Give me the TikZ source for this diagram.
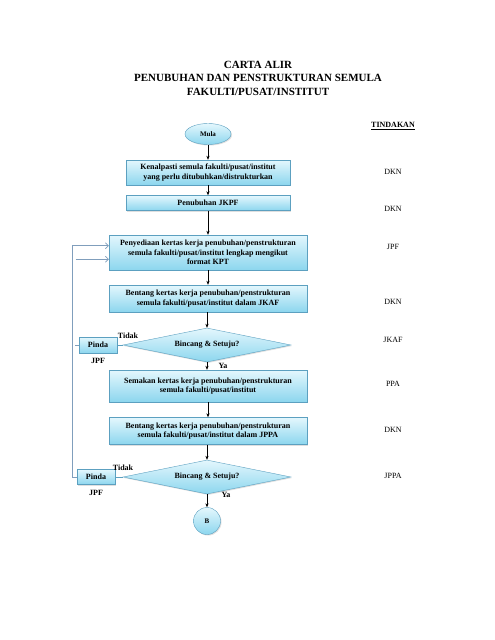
\documentclass[tikz,border=0pt]{standalone}
\usepackage{fontspec}
\setmainfont{Liberation Serif}
\usetikzlibrary{arrows.meta, calc, positioning, shapes.geometric, shadows}
\definecolor{boxtop}{RGB}{228,247,253}
\definecolor{boxbot}{RGB}{140,214,238}
\definecolor{boxline}{RGB}{92,160,192}
\definecolor{fbline}{RGB}{128,158,188}

\begin{document}
\begin{tikzpicture}[x=1pt, y=-1pt,
    font=\fontsize{8}{9.5}\selectfont\bfseries,
    box/.style={rectangle, draw=boxline, top color=boxtop, bottom color=boxbot,
                align=center, inner sep=2pt,
                drop shadow={opacity=0.25, shadow xshift=1pt, shadow yshift=-1pt}},
    narrowbox/.style={box, minimum width=164pt},
    widebox/.style={box, minimum width=198pt},
    decision/.style={box, diamond, aspect=5, minimum width=168pt, minimum height=34pt, inner sep=0pt},
    terminal/.style={box, ellipse, minimum width=46pt, minimum height=21pt, inner sep=0pt,
                     font=\fontsize{7}{8}\selectfont\bfseries},
    connector/.style={box, circle, minimum size=27pt, inner sep=0pt,
                      font=\fontsize{7}{8}\selectfont\bfseries},
    pindabox/.style={box, minimum width=38pt, minimum height=16pt, inner sep=1pt},
    act/.style={font=\fontsize{8}{9.5}\selectfont},
    arr/.style={-{Stealth[length=4pt, width=3.2pt]}, line width=0.6pt, black},
    fb/.style={-{Straight Barb[length=3pt, width=6pt]}, line width=0.6pt, color=fbline},
    lbl/.style={inner sep=0pt}
]
\useasboundingbox[fill=white] (0,0) rectangle (495,640);

% Title
\node[align=center, font=\fontsize{11}{13.5}\selectfont\bfseries] (title) at (258,78)
  {CARTA ALIR\\PENUBUHAN DAN PENSTRUKTURAN SEMULA\\FAKULTI/PUSAT/INSTITUT};

% Main flow
\node[terminal] (mula) at (208,134) {Mula};
\node[narrowbox, minimum height=25pt] (kenal) at (208,172.5)
  {Kenalpasti semula fakulti/pusat/institut\\yang perlu ditubuhkan/distrukturkan};
\node[narrowbox, minimum height=15pt] (jkpf) at (208,203) {Penubuhan JKPF};
\node[widebox, minimum height=35pt] (sedia) at (208,252.5)
  {Penyediaan kertas kerja penubuhan/penstrukturan\\semula fakulti/pusat/institut lengkap mengikut\\format KPT};
\node[widebox, minimum height=27pt] (jkaf) at (208,298.5)
  {Bentang kertas kerja penubuhan/penstrukturan\\semula fakulti/pusat/institut dalam JKAF};
\node[decision] (dec1) at (207,345) {Bincang \& Setuju?};
\node[widebox, minimum height=32pt] (semak) at (208,386)
  {Semakan kertas kerja penubuhan/penstrukturan\\semula fakulti/pusat/institut};
\node[widebox, minimum height=27pt] (jppa) at (208,431)
  {Bentang kertas kerja penubuhan/penstrukturan\\semula fakulti/pusat/institut dalam JPPA};
\node[decision] (dec2) at (207,477) {Bincang \& Setuju?};
\node[connector] (b) at (207,521) {B};

% Amend boxes
\node[pindabox] (pinda1) at (98,345) {Pinda};
\node[below=2pt of pinda1] (jpf1) {JPF};
\node[pindabox, minimum height=15pt] (pinda2) at (96,477) {Pinda};
\node[below=2pt of pinda2] (jpf2) {JPF};

% Branch labels
\node[lbl] (tidak1) at (128,336) {Tidak};
\node[lbl] (ya1) at (223,366) {Ya};
\node[lbl] (tidak2) at (123,468) {Tidak};
\node[lbl] (ya2) at (226,495) {Ya};

% Action column
\node[font=\fontsize{8}{9.5}\selectfont\bfseries] (tindakan) at (393,126) {\underline{TINDAKAN}};
\node[act] (t1) at (393,172) {DKN};
\node[act] (t2) at (393,209) {DKN};
\node[act] (t3) at (393,247) {JPF};
\node[act] (t4) at (393,302) {DKN};
\node[act] (t5) at (393,340) {JKAF};
\node[act] (t6) at (393,384) {PPA};
\node[act] (t7) at (393,430) {DKN};
\node[act] (t8) at (393,476) {JPPA};

% Arrows down the flow
\draw[arr] (mula) -- (kenal);
\draw[arr] (kenal) -- (jkpf);
\draw[arr] (jkpf) -- (sedia);
\draw[arr] (sedia) -- (jkaf);
\draw[arr] (jkaf.south -| dec1.north) -- (dec1.north);
\draw[arr] (dec1.south) -- (semak.north -| dec1.south);
\draw[arr] (semak) -- (jppa);
\draw[arr] (jppa.south -| dec2.north) -- (dec2.north);
\draw[arr] (dec2) -- (b);

% Tidak branches
\draw[boxline, line width=0.6pt] (dec1.west) -- (pinda1.east);
\draw[boxline, line width=0.6pt] (dec2.west) -- (pinda2.east);

% Feedback into the working paper
\coordinate (fbin1) at ($(sedia.north west)!0.31!(sedia.south west)$);
\coordinate (fbin2) at ($(sedia.north west)!0.69!(sedia.south west)$);
\coordinate (fbfree) at ([xshift=-33pt]fbin2);
\draw[fb] (pinda2.west) -- ++(-5,0) |- (fbin1);
\draw[fb] (fbfree) -- (fbin2);
\draw[fbline, line width=0.6pt] (pinda1.west) -- ++(-4,0);
\end{tikzpicture}
\end{document}
